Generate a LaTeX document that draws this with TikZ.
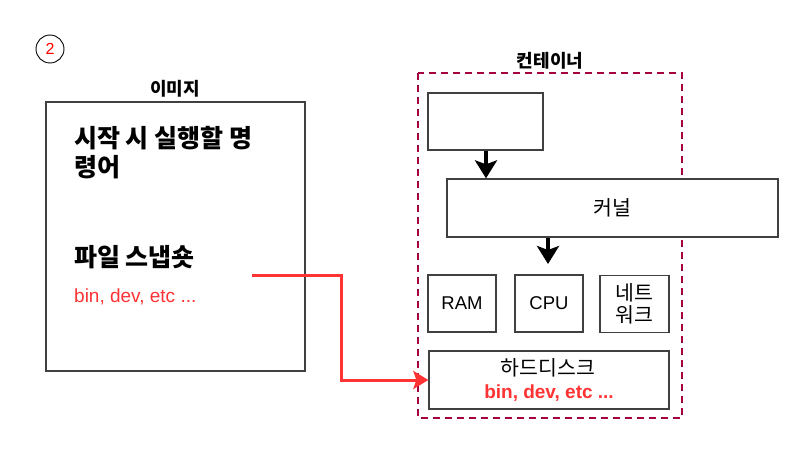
\documentclass[tikz,border=0pt]{standalone}
\usepackage{fontspec}
\setmainfont{Liberation Sans}
\newfontfamily\kr{Noto Sans CJK KR}
\usetikzlibrary{arrows.meta}
\definecolor{cont}{HTML}{A50040}
\definecolor{redl}{HTML}{FF3333}
\tikzset{
  box/.style={draw=black!75, line width=1.3pt, inner sep=0pt},
  blk/.style={line width=3.8pt, -{Stealth[length=18pt,width=22pt,inset=4pt]}},
  redarrow/.style={draw=redl, line width=3pt, -{Stealth[length=15pt,width=18pt,inset=3pt]}},
}
\begin{document}
\begin{tikzpicture}[x=1pt,y=-1pt]
\useasboundingbox (0,0) rectangle (795,457);
\fill[white] (0,0) rectangle (795,457);
% step number
\node[circle, draw, line width=0.9pt, minimum size=28pt, inner sep=0pt, text=red, font=\fontsize{16}{18}\selectfont] (num) at (50,49) {2};
% image box
\draw[box] (46,102) rectangle (305,371);
\node[font=\kr\bfseries\fontsize{18}{20}\selectfont] (imgl) at (175,89) {이미지};
\node[anchor=west, align=left, inner sep=0pt, font=\kr\bfseries\fontsize{25}{29}\selectfont] (cmd) at (74,152.5) {시작 시 실행할 명\\령어};
\node[anchor=west, inner sep=0pt, font=\kr\bfseries\fontsize{25}{29}\selectfont] (snap) at (74,257) {파일 스냅숏};
\node[anchor=west, inner sep=0pt, text=redl, font=\fontsize{19}{22}\selectfont] (files) at (74,297) {bin, dev, etc ...};
\coordinate (rs) at (252,275);
% container
\draw[draw=cont, line width=2pt, dash pattern=on 7pt off 5pt] (418,73) rectangle (682,418);
\node[font=\kr\bfseries\fontsize{18}{20}\selectfont] (contl) at (550,61) {컨테이너};
\node[box, fill=white, minimum width=115pt, minimum height=57pt] (app) at (485.5,121.5) {};
\node[box, fill=white, minimum width=331pt, minimum height=58pt, font=\kr\fontsize{20.5}{22}\selectfont] (kern) at (612.5,208) {커널};
\node[box, minimum width=68pt, minimum height=57pt, font=\fontsize{18.5}{20}\selectfont] (ram) at (462,303.5) {RAM};
\node[box, minimum width=68pt, minimum height=57pt, font=\fontsize{18.5}{20}\selectfont] (cpu) at (549,303.5) {CPU};
\node[box, minimum width=69pt, minimum height=57pt, align=center, font=\kr\fontsize{20.5}{22}\selectfont] (net) at (634.5,304) {네트\\워크};
\node[box, minimum width=240pt, minimum height=58pt] (hdd) at (549,380) {};
\node[font=\kr\fontsize{20.5}{22}\selectfont] (hddl) at (548,368) {하드디스크};
\node[text=redl, font=\bfseries\fontsize{19}{21}\selectfont] (hddf) at (549,393) {bin, dev, etc ...};
\coordinate (k2) at (548,264);
% arrows
\draw[blk] (app.south -| 486,0) -- (kern.north -| 486,0);
\draw[blk] (kern.south -| 548,0) -- (k2);
\draw[redarrow] (rs) -| (341,380) -- (hdd.west);
\end{tikzpicture}
\end{document}
